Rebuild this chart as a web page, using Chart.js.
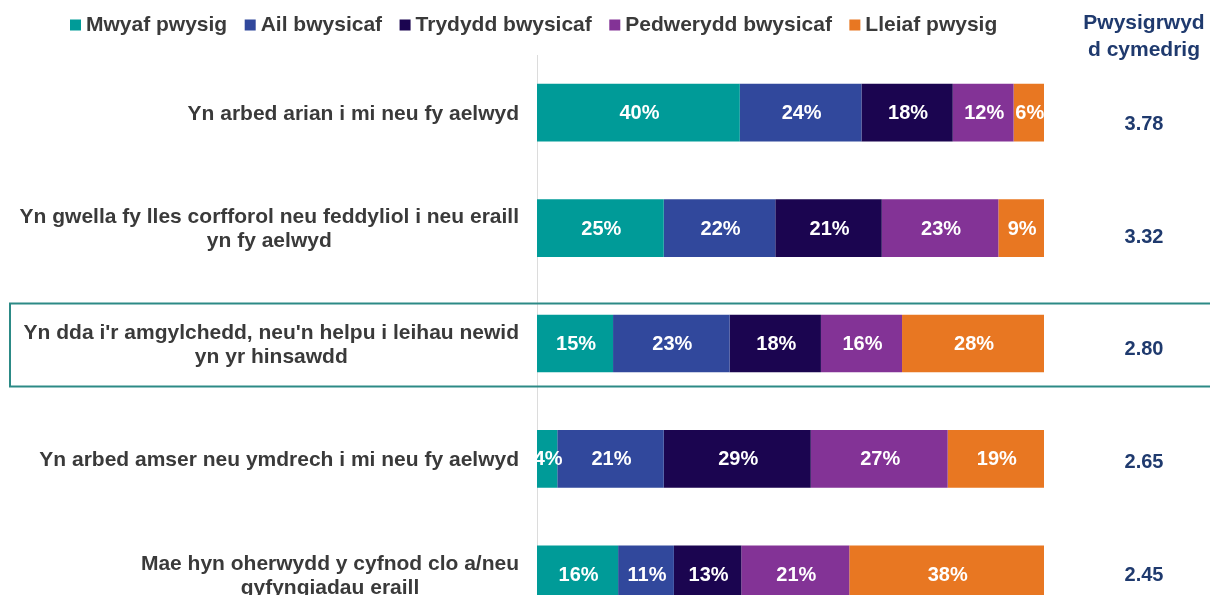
<!DOCTYPE html>
<html>
<head>
<meta charset="utf-8">
<script src="https://cdn.jsdelivr.net/npm/chart.js@4.4.1/dist/chart.umd.min.js"></script>
<style>
  html, body { margin: 0; padding: 0; background: #ffffff; overflow: hidden; }
  canvas { display: block; }
</style>
</head>
<body>
<canvas id="c" width="1210" height="632"></canvas>
<script>
// ---- data ----
const categories = [
  ["Yn arbed arian i mi neu fy aelwyd"],
  ["Yn gwella fy lles corfforol neu feddyliol i neu eraill", "yn fy aelwyd"],
  ["Yn dda i'r amgylchedd, neu'n helpu i leihau newid", "yn yr hinsawdd"],
  ["Yn arbed amser neu ymdrech i mi neu fy aelwyd"],
  ["Mae hyn oherwydd y cyfnod clo a/neu", "gyfyngiadau eraill"]
];
const seriesNames = ["Mwyaf pwysig", "Ail bwysicaf", "Trydydd bwysicaf", "Pedwerydd bwysicaf", "Lleiaf pwysig"];
const mostImportant = [40, 25, 15, 4, 16.0];
const secondImportant = [24, 22, 23, 21, 11.0];
const thirdImportant = [18, 21, 18, 29, 13.3];
const fourthImportant = [12, 23, 16, 27, 21.3];
const leastImportant = [6, 9, 28, 19, 38.4];
const meanImportance = ["3.78", "3.32", "2.80", "2.65", "2.45"];
const meanHeader = ["Pwysigrwyd", "d cymedrig"];
const highlightIndex = 2;

// ---- styles ----
const colors = ["#009B98", "#31489C", "#1B0550", "#833396", "#E87722"];
const FONT = "'Liberation Sans', Arial, sans-serif";
const textGrey = "#3a3a3a";
const navy = "#1F3A6E";

const seriesValues = [mostImportant, secondImportant, thirdImportant, fourthImportant, leastImportant];

const overlay = {
  id: 'overlay',
  afterDraw(chart) {
    const ctx = chart.ctx;
    const yScale = chart.scales.y;
    const area = chart.chartArea;
    ctx.save();

    // legend
    ctx.font = "bold 21px " + FONT;
    ctx.textBaseline = 'middle';
    ctx.textAlign = 'left';
    let lx = 70;
    const ly = 25;
    seriesNames.forEach((name, i) => {
      ctx.fillStyle = colors[i];
      ctx.fillRect(lx, ly - 5.5, 11, 11);
      ctx.fillStyle = textGrey;
      ctx.fillText(name, lx + 16, ly);
      lx += 16 + ctx.measureText(name).width + 17.5;
    });

    // data labels
    ctx.font = "bold 20px " + FONT;
    ctx.textAlign = 'center';
    ctx.fillStyle = '#ffffff';
    chart.data.datasets.forEach((ds, di) => {
      const meta = chart.getDatasetMeta(di);
      meta.data.forEach((bar, i) => {
        const v = ds.data[i];
        ctx.fillText(Math.round(v) + '%', (bar.x + bar.base) / 2 + 1, bar.y + 1);
      });
    });

    // category labels
    ctx.font = "bold 21px " + FONT;
    ctx.fillStyle = textGrey;
    const rightEdge = area.left - 18;
    const lineH = 24;
    categories.forEach((lines, i) => {
      const cy = yScale.getPixelForValue(i);
      let maxW = 0;
      lines.forEach(l => { maxW = Math.max(maxW, ctx.measureText(l).width); });
      const cx = rightEdge - maxW / 2;
      const y0 = cy - (lines.length - 1) * lineH / 2;
      lines.forEach((l, k) => ctx.fillText(l, cx, y0 + k * lineH + 1.5));
    });

    // mean header and values
    ctx.fillStyle = navy;
    ctx.font = "bold 21px " + FONT;
    const mx = 1144;
    ctx.fillText(meanHeader[0], mx, 23);
    ctx.fillText(meanHeader[1], mx, 50);
    ctx.font = "bold 20px " + FONT;
    meanImportance.forEach((m, i) => {
      const cy = yScale.getPixelForValue(i) + (12 - 2.8 * i);
      ctx.fillText(m, mx, cy);
    });

    // highlight box
    const hy = yScale.getPixelForValue(highlightIndex);
    ctx.strokeStyle = '#2C8A86';
    ctx.lineWidth = 2;
    ctx.strokeRect(10, hy - 40, 1210, 83);

    ctx.restore();
  }
};

new Chart(document.getElementById('c'), {
  type: 'bar',
  data: {
    labels: categories,
    datasets: seriesValues.map((vals, i) => ({
      label: seriesNames[i],
      data: vals,
      backgroundColor: colors[i],
      borderWidth: 0,
      barPercentage: 0.5,
      categoryPercentage: 1.0
    }))
  },
  options: {
    indexAxis: 'y',
    responsive: false,
    animation: false,
    devicePixelRatio: 1,
    layout: { padding: { top: 55, right: 166, left: 0, bottom: 0 } },
    plugins: {
      legend: { display: false },
      tooltip: { enabled: false },
      title: { display: false }
    },
    scales: {
      x: { stacked: true, min: 0, max: 100, display: false },
      y: {
        stacked: true,
        grid: { display: false },
        border: { display: true, color: '#dcdcdc', width: 1 },
        ticks: { display: false },
        afterFit: (s) => { s.width = 537; }
      }
    }
  },
  plugins: [overlay]
});
</script>
</body>
</html>
